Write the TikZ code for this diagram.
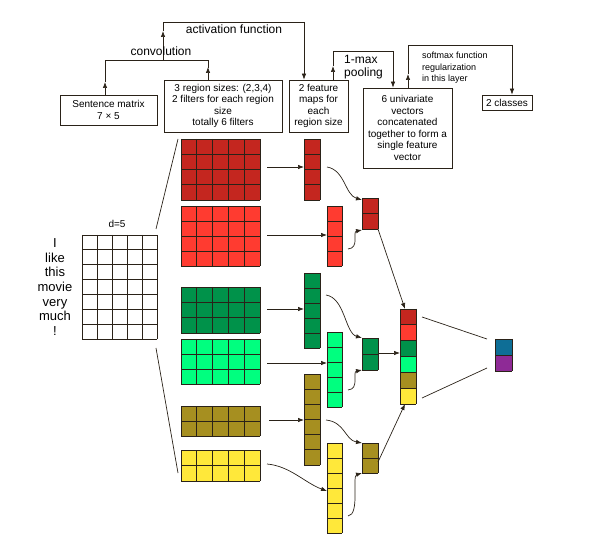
\documentclass[tikz,border=0pt]{standalone}
\usepackage{fontspec}
\setmainfont{Liberation Sans}
\usetikzlibrary{arrows.meta}
\definecolor{edge}{HTML}{2A2218}
\definecolor{cDR}{HTML}{C4261F}
\definecolor{cR}{HTML}{FF3B30}
\definecolor{cDG}{HTML}{00924A}
\definecolor{cLG}{HTML}{00FF7F}
\definecolor{cOl}{HTML}{A68F20}
\definecolor{cY}{HTML}{FFE83A}
\definecolor{cB}{HTML}{0E6E96}
\definecolor{cP}{HTML}{8E2A96}
\newcommand\blk[8]{%
  \node[fill=#8, inner sep=0, minimum width=#4pt-#2pt, minimum height=#5pt-#3pt, anchor=north west] (#1) at (#2,#3) {};
  \foreach \i in {0,...,#6} {\draw[edge,line width=0.8pt] ({#2+\i*(#4-#2)/#6},#3) -- ({#2+\i*(#4-#2)/#6},#5);}
  \foreach \j in {0,...,#7} {\draw[edge,line width=0.8pt] (#2,{#3+\j*(#5-#3)/#7}) -- (#4,{#3+\j*(#5-#3)/#7});}
}
\begin{document}
\begin{tikzpicture}[x=1pt,y=-1pt,
  box/.style={draw=edge, line width=0.7pt, align=center, inner sep=1pt, font=\fontsize{10}{11.5}\selectfont},
  lbl/.style={font=\fontsize{12}{13}\selectfont, inner sep=0},
  ar/.style={-{Latex[length=6pt,width=4.5pt]}, edge, line width=0.7pt},
  ln/.style={edge, line width=0.7pt}]
\useasboundingbox (0,0) rectangle (600,537);
% boxes
\node[box, minimum width=97pt, minimum height=30pt] (sm) at (108.5,110) {Sentence matrix\\7 × 5};
\node[box, minimum width=118pt, minimum height=52pt] (rs) at (223,106) {3 region sizes: (2,3,4)\\2 filters for each region\\size\\totally 6 filters};
\node[box, minimum width=59pt, minimum height=52pt] (fm) at (318.5,106) {2 feature\\maps for\\each\\region size};
\node[box, minimum width=89pt, minimum height=80pt] (uv) at (407.5,128) {6 univariate\\vectors\\concatenated\\together to form a\\single feature\\vector};
\node[box, minimum width=50pt, minimum height=15pt] (cl) at (507,102.5) {2 classes};
% top brackets
\coordinate (c1) at (105,60); \coordinate (c2) at (208,60); \coordinate (cm) at (163,60);
\coordinate (a1) at (163,22); \coordinate (a2) at (304,22);
\draw[ar] (sm.north -| c1) -- (105,82); \draw[ln] (105,82) -- (c1) -- (c2) -- (208,68);
\draw[ar] (rs.north -| c2) -- (208,67);
\draw[ar] (cm) -- (163,31); \draw[ln] (163,31) -- (a1) -- (a2);
\draw[ar] (a2) -- (fm.north -| a2);
\node[lbl, anchor=south] (tconv) at (161,56) {convolution};
\node[lbl, anchor=south] (tact) at (234,34) {activation function};
\coordinate (p1) at (333,51); \coordinate (p2) at (393,51);
\draw[ar] (fm.north -| p1) -- (333,66); \draw[ln] (333,66) -- (p1) -- (p2);
\draw[ar] (p2) -- (uv.north -| p2);
\node[lbl, align=left, anchor=north west] (tpool) at (344,55) {1-max\\pooling};
\coordinate (s1) at (408,45); \coordinate (s2) at (512,45);
\draw[ar] (uv.north -| s1) -- (408,74); \draw[ln] (408,74) -- (s1) -- (s2);
\draw[ar] (s2) -- (cl.north -| s2);
\node[align=left, anchor=north west, inner sep=0, font=\fontsize{9}{11.5}\selectfont] (tsm) at (422,52) {softmax function\\regularization\\in this layer};
% sentence matrix
\blk{S}{82}{235}{157}{339}{5}{7}{white}
\node[font=\fontsize{10}{11}\selectfont] (d5) at (117,224) {d=5};
\node[align=center, font=\fontsize{13}{14.6}\selectfont, inner sep=0] (words) at (55,287) {I\\like\\this\\movie\\very\\much\\!};
% filters
\blk{F1}{181}{139}{260}{200}{5}{4}{cDR}
\blk{F2}{181}{206}{260}{266}{5}{4}{cR}
\blk{F3}{181}{287}{260}{333}{5}{3}{cDG}
\blk{F4}{181}{339}{260}{384}{5}{3}{cLG}
\blk{F5}{181}{406}{260}{436}{5}{2}{cOl}
\blk{F6}{181}{450}{260}{481}{5}{2}{cY}
\draw[ln] (178,139) -- (156,229);
\draw[ln] (156,348) -- (178,473);
% feature maps
\blk{M1}{304}{139}{320}{200}{1}{4}{cDR}
\blk{M2}{327}{206}{342}{266}{1}{4}{cR}
\blk{M3}{304}{273}{320}{348}{1}{5}{cDG}
\blk{M4}{327}{332}{342}{407}{1}{5}{cLG}
\blk{M5}{304}{374}{320}{465}{1}{6}{cOl}
\blk{M6}{327}{443}{342}{533}{1}{6}{cY}
\draw[ar] (267,167) -- (304,167);
\draw[ar] (267,235) -- (327,235);
\draw[ar] (267,309) -- (304,309);
\draw[ar] (267,363) -- (327,363);
\draw[ar] (269,420) -- (304,420);
\draw[ar] (267,464) .. controls (290,466) and (305,483) .. (327,491);
% pooled
\blk{P1}{362}{198}{378}{229}{1}{2}{cDR}
\blk{P2}{362}{338}{378}{370}{1}{2}{cDG}
\blk{P3}{362}{443}{378}{473}{1}{2}{cOl}
\draw[ar] (327,167) .. controls (345,170) and (345,195) .. (362,200);
\draw[ar] (348,249) .. controls (360,248) and (352,232) .. (362,230);
\draw[ar] (326,295) .. controls (345,298) and (345,333) .. (362,338);
\draw[ar] (348,390) .. controls (360,389) and (352,372) .. (362,370);
\draw[ar] (326,420) .. controls (345,422) and (345,440) .. (362,443);
\draw[ar] (348,516) .. controls (360,515) and (352,476) .. (362,473);
% concat
\blk{C}{400}{309}{416}{404}{1}{6}{white}
\fill[cDR] (400,309) rectangle (416,324.8);
\fill[cR] (400,324.8) rectangle (416,340.7);
\fill[cDG] (400,340.7) rectangle (416,356.5);
\fill[cLG] (400,356.5) rectangle (416,372.3);
\fill[cOl] (400,372.3) rectangle (416,388.2);
\fill[cY] (400,388.2) rectangle (416,404);
\foreach \j in {0,...,6} {\draw[edge,line width=0.8pt] (400,{309+\j*95/6}) -- (416,{309+\j*95/6});}
\draw[edge,line width=0.8pt] (400,309) -- (400,404) (416,309) -- (416,404);
\draw[ar] (378,229) -- (405,309);
\draw[ar] (378,353) -- (400,353);
\draw[ar] (378,462) -- (405,404);
% output
\fill[cB] (495,339) rectangle (512,355);
\fill[cP] (495,355) rectangle (512,371);
\blk{O}{495}{339}{512}{371}{1}{2}{none}
\draw[ln] (422,317) -- (487,339);
\draw[ln] (422,398) -- (487,368);
\end{tikzpicture}
\end{document}
